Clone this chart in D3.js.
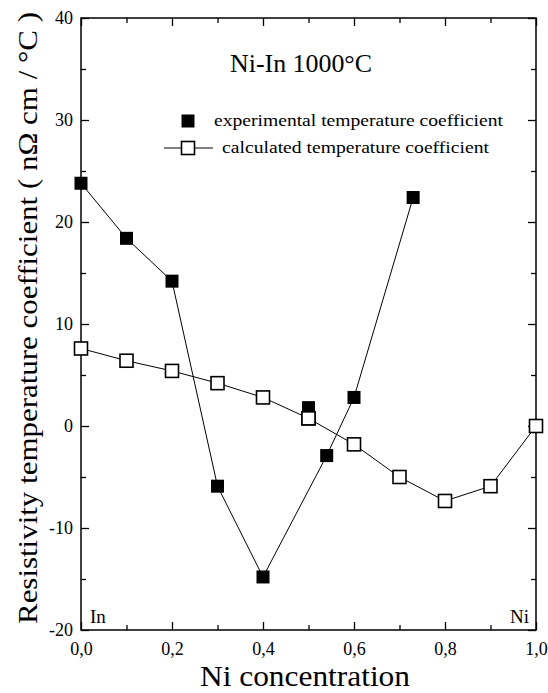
<!DOCTYPE html>
<html><head><meta charset="utf-8">
<script src="https://cdn.jsdelivr.net/npm/d3@7"></script>
<style>body{margin:0;background:#fff}svg{display:block}</style>
</head><body>
<script>
const expX = [0.0, 0.1, 0.2, 0.3, 0.4, 0.54, 0.6, 0.73];
const expY = [23.8, 18.4, 14.2, -5.9, -14.8, -2.9, 2.8, 22.4];
const expIsoX = [0.5];
const expIsoY = [1.8];
const calcX = [0.0, 0.1, 0.2, 0.3, 0.4, 0.5, 0.6, 0.7, 0.8, 0.9, 1.0];
const calcY = [7.6, 6.4, 5.4, 4.2, 2.8, 0.75, -1.8, -5.0, -7.35, -5.9, 0.0];
const xTicks = [0, 0.2, 0.4, 0.6, 0.8, 1.0];
const xMinor = [0.1, 0.3, 0.5, 0.7, 0.9];
const yTicks = [-20, -10, 0, 10, 20, 30, 40];
const yMinor = [-15, -5, 5, 15, 25, 35];

const FONT = "'Liberation Serif', 'DejaVu Serif', 'Times New Roman', serif";
const W = 548, H = 693;
const m = {l: 81, r: 12, t: 18, b: 63};
const svg = d3.select("body").append("svg").attr("width", W).attr("height", H).style("font-family", FONT);
const x = d3.scaleLinear().domain([0, 1]).range([m.l, W - m.r]);
const y = d3.scaleLinear().domain([-20, 40]).range([H - m.b, m.t]);
const fmt = d => d3.format(".1f")(d).replace(".", ",");

svg.append("rect").attr("x", x(0)).attr("y", y(40)).attr("width", x(1) - x(0)).attr("height", y(-20) - y(40))
  .attr("fill", "none").attr("stroke", "#000").attr("stroke-width", 1.5);

function addAxis(axisGen, tx, ty, vals, size, labels) {
  const g = svg.append("g").attr("transform", `translate(${tx},${ty})`)
    .call(axisGen.tickValues(vals).tickSize(size).tickPadding(4).tickFormat(labels ? labels : ""));
  g.attr("font-family", null).attr("font-size", null);
  g.select(".domain").remove();
  g.selectAll("line").attr("stroke", "#000").attr("stroke-width", 1.3);
  g.selectAll("text").style("font-family", FONT).attr("fill", "#000");
  return g;
}
const gb = addAxis(d3.axisBottom(x), 0, y(-20), xTicks, -8, fmt);
gb.selectAll("text").style("font-size", "18px").attr("y", 12);
addAxis(d3.axisBottom(x), 0, y(-20), xMinor, -5, null);
addAxis(d3.axisTop(x), 0, y(40), xTicks, -8, null);
addAxis(d3.axisTop(x), 0, y(40), xMinor, -5, null);
const gl = addAxis(d3.axisLeft(y), x(0), 0, yTicks, -8, d => d);
gl.selectAll("text").style("font-size", "18px").attr("x", -8);
addAxis(d3.axisLeft(y), x(0), 0, yMinor, -5, null);
addAxis(d3.axisRight(y), x(1), 0, yTicks, -8, null);
addAxis(d3.axisRight(y), x(1), 0, yMinor, -5, null);

const line = d3.line().x(d => x(d[0])).y(d => y(d[1]));
const expPts = expX.map((v, i) => [v, expY[i]]);
const calcPts = calcX.map((v, i) => [v, calcY[i]]);
svg.append("path").attr("d", line(calcPts)).attr("fill", "none").attr("stroke", "#000").attr("stroke-width", 1);
svg.append("path").attr("d", line(expPts)).attr("fill", "none").attr("stroke", "#000").attr("stroke-width", 1);

const S = 13;
svg.selectAll(".calc").data(calcPts).enter().append("rect")
  .attr("x", d => x(d[0]) - S / 2).attr("y", d => y(d[1]) - S / 2).attr("width", S).attr("height", S)
  .attr("fill", "#fff").attr("stroke", "#000").attr("stroke-width", 1.6);
const expAll = expPts.concat(expIsoX.map((v, i) => [v, expIsoY[i]]));
svg.selectAll(".exp").data(expAll).enter().append("rect")
  .attr("x", d => x(d[0]) - S / 2).attr("y", d => y(d[1]) - S / 2).attr("width", S).attr("height", S)
  .attr("fill", "#000");
svg.append("rect").attr("x", x(calcX[5]) - S / 2).attr("y", y(calcY[5]) - S / 2).attr("width", S).attr("height", S)
  .attr("fill", "#fff").attr("stroke", "#000").attr("stroke-width", 1.6);

function txt(xp, yp, size, s, anchor, len) {
  const t = svg.append("text").attr("x", xp).attr("y", yp).attr("text-anchor", anchor || "start")
    .style("font-family", FONT).style("font-size", size + "px").attr("fill", "#000").text(s);
  if (len) t.attr("textLength", len).attr("lengthAdjust", "spacingAndGlyphs");
  return t;
}
txt(301, 72, 25, "Ni-In 1000°C", "middle", 142);

svg.append("rect").attr("x", 188 - S / 2).attr("y", 121 - S / 2).attr("width", S).attr("height", S).attr("fill", "#000");
txt(214, 126, 17, "experimental temperature coefficient", "start", 289);
svg.append("line").attr("x1", 164).attr("x2", 213).attr("y1", 148).attr("y2", 148).attr("stroke", "#000").attr("stroke-width", 1);
svg.append("rect").attr("x", 188 - S / 2).attr("y", 148 - S / 2).attr("width", S).attr("height", S)
  .attr("fill", "#fff").attr("stroke", "#000").attr("stroke-width", 1.6);
txt(222, 153, 17, "calculated temperature coefficient", "start", 267);

txt(90, 623, 19, "In");
txt(529, 623, 19, "Ni", "end");

txt(305, 686, 30, "Ni concentration", "middle", 210);
svg.append("text").attr("transform", `translate(37,318) rotate(-90)`).attr("text-anchor", "middle")
  .style("font-family", FONT).style("font-size", "28px").attr("fill", "#000")
  .attr("textLength", 612).attr("lengthAdjust", "spacingAndGlyphs")
  .text("Resistivity temperature coefficient ( nΩ cm / °C )");
</script>
</body></html>
